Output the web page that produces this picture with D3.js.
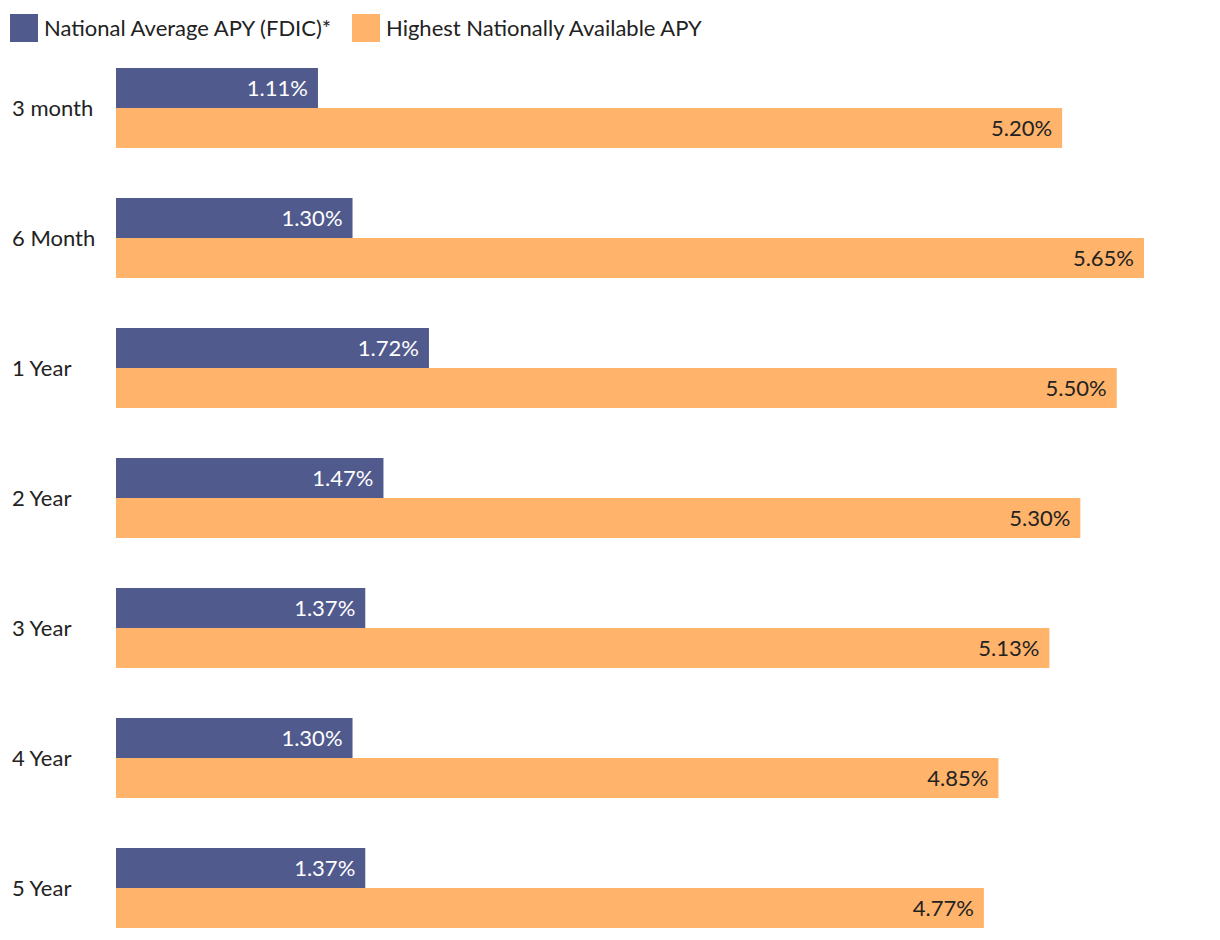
<!DOCTYPE html>
<html><head><meta charset="utf-8">
<script src="https://cdn.jsdelivr.net/npm/d3@7"></script>
<style>body{margin:0;background:#fff;} text{font-family:"Source Sans Pro",Lato,"Noto Sans",sans-serif;}</style>
</head><body>
<svg id="c" width="1220" height="940"></svg>
<script>
const categories = ["3 month","6 Month","1 Year","2 Year","3 Year","4 Year","5 Year"];
const nationalAvg = [1.11,1.30,1.72,1.47,1.37,1.30,1.37];
const highestAvail = [5.20,5.65,5.50,5.30,5.13,4.85,4.77];
const seriesNames = ["National Average APY (FDIC)*","Highest Nationally Available APY"];
const colors = ["#515a8d","#ffb36b"];

const svg = d3.select("#c");
const x = d3.scaleLinear().domain([0,5.65]).range([116,1144]);
const y = d3.scaleBand().domain(categories).range([68,978]).paddingInner(0).paddingOuter(0);
const sub = d3.scaleBand().domain([0,1]).range([0,80]);

const g = svg.append("g");
categories.forEach((c,i)=>{
  const vals=[nationalAvg[i],highestAvail[i]];
  vals.forEach((v,j)=>{
    const y0 = y(c)+sub(j);
    g.append("rect").attr("x",x(0)).attr("y",y0).attr("width",x(v)-x(0)).attr("height",sub.bandwidth()).attr("fill",colors[j]);
    g.append("text").attr("x",x(v)-10).attr("y",y0+sub.bandwidth()/2).attr("dy","0.35em")
      .attr("text-anchor","end").attr("font-size",22).attr("fill",j===0?"#fff":"#222").text(v.toFixed(2)+"%");
  });
  g.append("text").attr("x",12).attr("y",y(c)+40).attr("dy","0.35em").attr("font-size",22).attr("fill","#222").text(c);
});

const leg = svg.append("g");
const legX=[10,352];
seriesNames.forEach((n,i)=>{
  leg.append("rect").attr("x",legX[i]).attr("y",14).attr("width",28).attr("height",28).attr("fill",colors[i]);
  leg.append("text").attr("x",legX[i]+34).attr("y",28).attr("dy","0.35em").attr("font-size",22).attr("fill","#222").text(n);
});
</script>
</body></html>
